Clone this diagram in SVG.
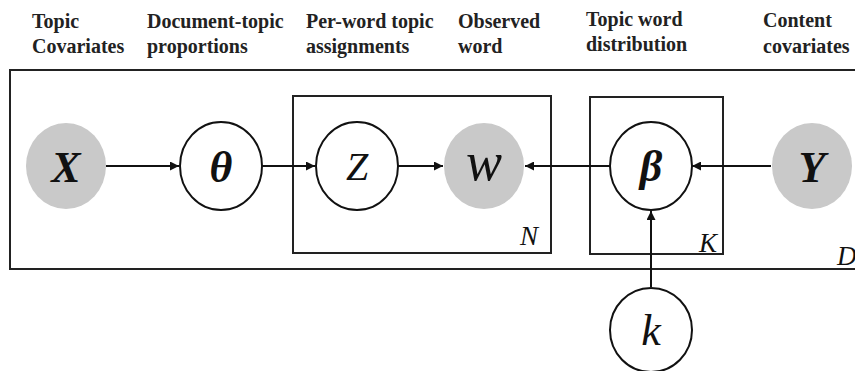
<svg xmlns="http://www.w3.org/2000/svg" width="855" height="371" viewBox="0 0 855 371">
<style>
.hdr{font-family:"Liberation Serif","Times New Roman",Times,serif;font-weight:bold;font-size:20px;fill:#222}
.plate{fill:none;stroke:#222;stroke-width:2}
.obs{fill:#c9c9c9;stroke:none}
.lat{fill:#fff;stroke:#111;stroke-width:2}
.sym{font-family:"Liberation Serif","Times New Roman",Times,serif;font-style:italic;text-anchor:middle;fill:#111}
.b{font-weight:bold}
.plab{font-family:"Liberation Serif","Times New Roman",Times,serif;font-style:italic;font-size:27px;fill:#111}
.edge{stroke:#111;stroke-width:2;fill:none;marker-end:url(#ah)}
</style>
<defs>
<marker id="ah" viewBox="0 0 10 10" refX="10" refY="5" markerWidth="4.5" markerHeight="4.5" orient="auto" markerUnits="strokeWidth">
<path d="M0,0 L10,5 L0,10 z" fill="#111"/>
</marker>
</defs>
<rect width="855" height="371" fill="#fff"/>
<g id="headers">
<text class="hdr" x="32" y="28">Topic</text>
<text class="hdr" x="32" y="53">Covariates</text>
<text class="hdr" x="147" y="28">Document-topic</text>
<text class="hdr" x="147" y="53">proportions</text>
<text class="hdr" x="306" y="28">Per-word topic</text>
<text class="hdr" x="306" y="53">assignments</text>
<text class="hdr" x="458" y="28">Observed</text>
<text class="hdr" x="458" y="53">word</text>
<text class="hdr" x="586" y="26">Topic word</text>
<text class="hdr" x="586" y="51">distribution</text>
<text class="hdr" x="763" y="27">Content</text>
<text class="hdr" x="763" y="53">covariates</text>
</g>
<g id="plate-D">
<rect class="plate" x="10" y="70" width="860" height="199"/>
<text class="plab" x="837" y="265">D</text>
</g>
<g id="plate-N">
<rect class="plate" x="293" y="96" width="258" height="157"/>
<text class="plab" x="520" y="245">N</text>
</g>
<g id="plate-K">
<rect class="plate" x="590" y="97" width="133" height="157"/>
<text class="plab" x="699" y="252">K</text>
</g>
<g id="connectors">
<line class="edge" x1="106" y1="166" x2="179" y2="166"/>
<line class="edge" x1="262" y1="166" x2="315" y2="166"/>
<line class="edge" x1="398" y1="166" x2="443" y2="166"/>
<line class="edge" x1="610" y1="166" x2="525" y2="166"/>
<line class="edge" x1="771" y1="166" x2="692" y2="166"/>
<line class="edge" x1="651" y1="287" x2="651" y2="211"/>
</g>
<g id="node-X">
<ellipse class="obs" cx="66" cy="166" rx="40" ry="43"/>
<text class="sym b" x="66" y="182" font-size="44">X</text>
</g>
<g id="node-theta">
<ellipse class="lat" cx="221" cy="166" rx="41" ry="44"/>
<text class="sym b" x="221" y="182" font-size="44">θ</text>
</g>
<g id="node-Z">
<ellipse class="lat" cx="357" cy="166" rx="41" ry="44"/>
<text class="sym" x="357" y="180" font-size="40">Z</text>
</g>
<g id="node-W">
<ellipse class="obs" cx="484" cy="166" rx="40" ry="43"/>
<text class="sym" x="484" y="180" font-size="54">w</text>
</g>
<g id="node-beta">
<ellipse class="lat" cx="651" cy="166" rx="41" ry="44"/>
<text class="sym b" x="651" y="181" font-size="44">β</text>
</g>
<g id="node-Y">
<ellipse class="obs" cx="812" cy="166" rx="40" ry="43"/>
<text class="sym b" x="812" y="182" font-size="44">Y</text>
</g>
<g id="node-k">
<ellipse class="lat" cx="651" cy="330" rx="41" ry="42"/>
<text class="sym" x="651" y="345" font-size="44">k</text>
</g>
</svg>
